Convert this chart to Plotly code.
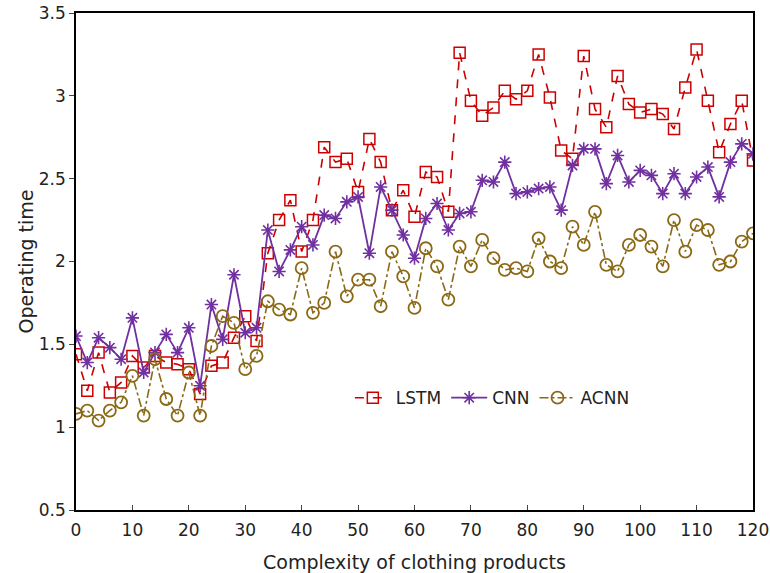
import plotly.graph_objects as go

x_vals = list(range(0, 121, 2))

lstm = [1.44, 1.22, 1.45, 1.21, 1.27, 1.43, 1.36, 1.43, 1.39, 1.38,
        1.35, 1.20, 1.37, 1.39, 1.54, 1.67, 1.52, 2.05, 2.25, 2.37,
        2.06, 2.25, 2.69, 2.60, 2.62, 2.42, 2.74, 2.60, 2.31, 2.43,
        2.27, 2.54, 2.51, 2.30, 3.26, 2.97, 2.88, 2.93, 3.03, 2.98,
        3.03, 3.25, 2.99, 2.67, 2.62, 3.24, 2.92, 2.81, 3.12, 2.95,
        2.90, 2.92, 2.89, 2.80, 3.05, 3.28, 2.97, 2.66, 2.83, 2.97,
        2.61]

cnn = [1.55, 1.39, 1.54, 1.48, 1.41, 1.66, 1.33, 1.45, 1.56, 1.45,
       1.60, 1.25, 1.74, 1.53, 1.92, 1.57, 1.60, 2.19, 1.94, 2.07,
       2.21, 2.10, 2.28, 2.26, 2.36, 2.39, 2.05, 2.45, 2.31, 2.16,
       2.02, 2.26, 2.35, 2.19, 2.29, 2.30, 2.49, 2.48, 2.60, 2.41,
       2.42, 2.44, 2.45, 2.31, 2.58, 2.68, 2.68, 2.47, 2.64, 2.48,
       2.55, 2.52, 2.41, 2.53, 2.41, 2.51, 2.57, 2.39, 2.60, 2.71,
       2.65]

acnn = [1.08, 1.10, 1.04, 1.10, 1.15, 1.31, 1.07, 1.41, 1.17, 1.07,
        1.33, 1.07, 1.49, 1.67, 1.63, 1.35, 1.43, 1.76, 1.71, 1.68,
        1.96, 1.69, 1.75, 2.06, 1.79, 1.89, 1.89, 1.73, 2.06, 1.91,
        1.72, 2.08, 1.97, 1.77, 2.09, 1.97, 2.13, 2.02, 1.95, 1.96,
        1.94, 2.14, 2.00, 1.96, 2.21, 2.10, 2.30, 1.98, 1.94, 2.10,
        2.16, 2.09, 1.97, 2.25, 2.06, 2.22, 2.19, 1.98, 2.00, 2.12,
        2.17]

x_ticks = list(range(0, 121, 10))
y_ticks = [0.5, 1, 1.5, 2, 2.5, 3, 3.5]
y_tick_text = ["0.5", "1", "1.5", "2", "2.5", "3", "3.5"]

RED = "#CC0000"
PURPLE = "#7030A0"
OLIVE = "#8B6914"

fig = go.Figure()
fig.add_trace(go.Scatter(
    x=x_vals, y=lstm, name="LSTM", mode="lines+markers",
    line=dict(color=RED, width=1.6, dash="dash"),
    marker=dict(symbol="square-open", size=11, color=RED, line=dict(width=1.5, color=RED)),
))
fig.add_trace(go.Scatter(
    x=x_vals, y=cnn, name="CNN", mode="lines+markers",
    line=dict(color=PURPLE, width=1.8),
    marker=dict(symbol="asterisk-open", size=11, color=PURPLE, line=dict(width=1.6, color=PURPLE)),
))
fig.add_trace(go.Scatter(
    x=x_vals, y=acnn, name="ACNN", mode="lines+markers",
    line=dict(color=OLIVE, width=1.6, dash="dashdot"),
    marker=dict(symbol="circle-open", size=12, color=OLIVE, line=dict(width=1.8, color=OLIVE)),
))

fig.update_layout(
    width=770, height=573,
    margin=dict(l=76, r=17, t=13, b=63, autoexpand=False),
    paper_bgcolor="white", plot_bgcolor="white",
    font=dict(family="DejaVu Sans, Verdana, sans-serif", size=17, color="#222222"),
    showlegend=True,
    legend=dict(orientation="h", x=0.615, y=0.225, xanchor="center", yanchor="middle",
                bgcolor="rgba(0,0,0,0)", font=dict(size=17), itemwidth=36,
                tracegroupgap=0),
    xaxis=dict(range=[0, 120], tickvals=x_ticks, ticks="inside", ticklen=5,
               showline=True, linecolor="black", linewidth=1.5, mirror=True,
               showgrid=False, zeroline=False, automargin=False, ticklabelstandoff=4,
               title=dict(text="Complexity of clothing products", font=dict(size=19), standoff=18)),
    yaxis=dict(range=[0.5, 3.5], tickvals=y_ticks, ticktext=y_tick_text, ticks="outside", ticklen=5,
               showline=True, linecolor="black", linewidth=1.5, mirror=True,
               showgrid=False, zeroline=False, automargin=False,
               title=dict(text="Operating time", font=dict(size=19), standoff=0)),
)

fig.write_html("out.html", config={"displayModeBar": False},
               post_script="document.body.style.margin='0px';")
